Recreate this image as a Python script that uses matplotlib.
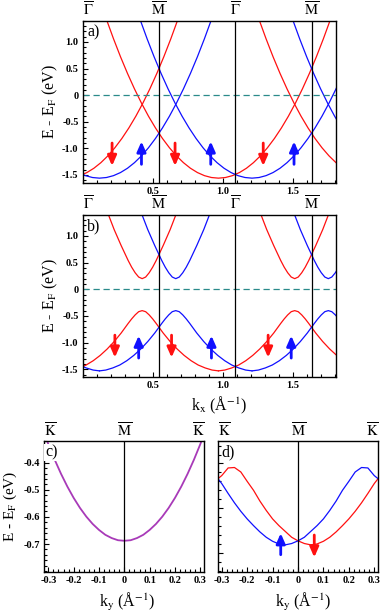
import numpy as np
import matplotlib
matplotlib.use('Agg')
import matplotlib.pyplot as plt
from matplotlib.ticker import MultipleLocator

plt.rcParams['font.family'] = ['Liberation Serif', 'DejaVu Serif']
plt.rcParams['mathtext.fontset'] = 'stix'

RED = '#ff1010'
BLUE = '#1010ff'
PURPLE = '#a83ab8'
TEAL = '#2a8a8a'

# one free-electron-like parabola (offset from its minimum)
para_dk = [-0.85, -0.80, -0.75, -0.70, -0.65, -0.60, -0.55, -0.50, -0.45, -0.40,
           -0.35, -0.30, -0.25, -0.20, -0.15, -0.10, -0.05, 0.00, 0.05, 0.10,
           0.15, 0.20, 0.25, 0.30, 0.35, 0.40, 0.45, 0.50, 0.55, 0.60,
           0.65, 0.70, 0.75, 0.80, 0.85]
para_E = [1.807, 1.422, 1.061, 0.723, 0.409, 0.118, -0.150, -0.395, -0.616, -0.814,
          -0.989, -1.141, -1.269, -1.374, -1.455, -1.513, -1.548, -1.560, -1.548, -1.513,
          -1.455, -1.374, -1.269, -1.141, -0.989, -0.814, -0.616, -0.395, -0.150, 0.118,
          0.409, 0.723, 1.061, 1.422, 1.807]
a_red_centers = [-0.12, 0.97, 2.06]
a_blue_centers = [0.12, 1.21, 2.30]

# gapped bands of panel b, read around each gap (offset from the gap)
gap_dk = [-0.545, -0.50, -0.45, -0.40, -0.35, -0.30, -0.25, -0.20, -0.15, -0.10,
          -0.075, -0.05, -0.025, 0.0, 0.025, 0.05, 0.075, 0.10, 0.15, 0.20,
          0.25, 0.30, 0.35, 0.40, 0.45, 0.50, 0.545]
gap_lower = [-1.53, -1.515, -1.475, -1.42, -1.34, -1.24, -1.12, -0.98, -0.82, -0.64,
             -0.555, -0.48, -0.42, -0.40, -0.42, -0.48, -0.555, -0.64, -0.82, -0.98,
             -1.12, -1.24, -1.34, -1.42, -1.475, -1.515, -1.53]
up_dk = [-0.30, -0.25, -0.20, -0.15, -0.10, -0.075, -0.05, -0.025, 0.0,
         0.025, 0.05, 0.075, 0.10, 0.15, 0.20, 0.25, 0.30]
gap_upper = [1.83, 1.46, 1.12, 0.82, 0.54, 0.415, 0.31, 0.23, 0.20,
             0.23, 0.31, 0.415, 0.54, 0.82, 1.12, 1.46, 1.83]
b_red_gaps = [0.425, 1.515]
b_blue_gaps = [-0.425, 0.665, 1.755]

sym_k = [0.0, 0.545, 1.09, 1.635]
sym_lab = [r'$\overline{\Gamma}$', r'$\overline{\mathrm{M}}$',
           r'$\overline{\Gamma}$', r'$\overline{\mathrm{M}}$']

a_red_arrows = [0.21, 0.66, 1.29]
a_blue_arrows = [0.42, 0.915, 1.51]
b_red_arrows = [0.23, 0.635, 1.325]
b_blue_arrows = [0.40, 0.92, 1.49]

# panels c and d, along K-M-K
ky = [-0.315, -0.30, -0.275, -0.25, -0.225, -0.20, -0.175, -0.15, -0.125, -0.10,
      -0.075, -0.05, -0.025, 0.0, 0.025, 0.05, 0.075, 0.10, 0.125, 0.15,
      0.175, 0.20, 0.225, 0.25, 0.275, 0.30, 0.315]
c_E = [-0.295, -0.332, -0.389, -0.441, -0.488, -0.530, -0.567, -0.599, -0.626, -0.648,
       -0.666, -0.678, -0.686, -0.688, -0.686, -0.678, -0.666, -0.648, -0.626, -0.599,
       -0.567, -0.530, -0.488, -0.441, -0.389, -0.332, -0.295]
d_blue = [-0.534, -0.545, -0.567, -0.588, -0.607, -0.624, -0.639, -0.653, -0.665, -0.674,
          -0.680, -0.682, -0.679, -0.673, -0.665, -0.652, -0.639, -0.624, -0.605, -0.584,
          -0.560, -0.540, -0.519, -0.509, -0.510, -0.527, -0.534]
d_red = [-0.534, -0.527, -0.510, -0.509, -0.519, -0.540, -0.560, -0.584, -0.605, -0.624,
         -0.639, -0.652, -0.665, -0.673, -0.679, -0.682, -0.680, -0.674, -0.665, -0.653,
         -0.639, -0.624, -0.607, -0.588, -0.567, -0.545, -0.534]


def arrow(ax, x, y0, y1, col):
    ax.annotate('', xy=(x, y1), xytext=(x, y0),
                arrowprops=dict(arrowstyle='-|>,head_length=0.5,head_width=0.22',
                                mutation_scale=12, lw=2, color=col,
                                shrinkA=0, shrinkB=0))


def style(ax):
    ax.tick_params(which='both', direction='in', top=False, right=False,
                   labelsize=7.5, width=0.8, pad=3)
    ax.tick_params(which='major', length=3.5)
    ax.tick_params(which='minor', length=2)
    for sp in ax.spines.values():
        sp.set_linewidth(1.0)


fig = plt.figure(figsize=(3.88, 6.13), dpi=100)
ax_a = fig.add_axes([0.2131, 0.7020, 0.6529, 0.2643])
ax_b = fig.add_axes([0.2131, 0.3850, 0.6529, 0.2648])
ax_c = fig.add_axes([0.1142, 0.0674, 0.4124, 0.2132])
ax_d = fig.add_axes([0.5611, 0.0674, 0.4139, 0.2137])

dk = np.array(para_dk)
for c in a_red_centers:
    ax_a.plot(dk + c, para_E, color=RED, lw=0.9)
for c in a_blue_centers:
    ax_a.plot(dk + c, para_E, color=BLUE, lw=0.9)
for k in a_red_arrows:
    arrow(ax_a, k, -0.9, -1.33, RED)
for k in a_blue_arrows:
    arrow(ax_a, k, -1.30, -0.87, BLUE)

gdk = np.array(gap_dk)
udk = np.array(up_dk)
for c in b_red_gaps:
    ax_b.plot(gdk + c, gap_lower, color=RED, lw=0.9)
    ax_b.plot(udk + c, gap_upper, color=RED, lw=0.9)
for c in b_blue_gaps:
    ax_b.plot(gdk + c, gap_lower, color=BLUE, lw=0.9)
    ax_b.plot(udk + c, gap_upper, color=BLUE, lw=0.9)
for k in b_red_arrows:
    arrow(ax_b, k, -0.86, -1.28, RED)
for k in b_blue_arrows:
    arrow(ax_b, k, -1.29, -0.87, BLUE)

for ax, lab in [(ax_a, 'a)'), (ax_b, 'b)')]:
    ax.set_xlim(0, 1.81)
    ax.set_ylim(-1.645, 1.40)
    ax.axhline(0, color=TEAL, ls=(0, (5, 3)), lw=0.9)
    for k in sym_k[1:]:
        ax.axvline(k, color='k', lw=0.9)
    for k, s in zip(sym_k, sym_lab):
        ax.text(k, 1.01, s, transform=ax.get_xaxis_transform(), fontsize=10.5,
                ha='left' if k == 0 else 'center', va='bottom')
    ax.set_yticks([-1.5, -1.0, -0.5, 0, 0.5, 1.0],
                  ['-1.5', '-1.0', '-0.5', '0', '0.5', '1.0'], fontweight='bold')
    ax.set_xticks([0.5, 1.0, 1.5], ['0.5', '1.0', '1.5'], fontweight='bold')
    ax.xaxis.set_minor_locator(MultipleLocator(0.1))
    ax.yaxis.set_minor_locator(MultipleLocator(0.1))
    style(ax)
    ax.text(0.018, 0.975, lab, transform=ax.transAxes, fontsize=11.5,
            ha='left', va='top')

fig.text(50 / 388, 1 - 101.7 / 613, r'E - E$_\mathrm{F}$ (eV)', rotation=90,
         ha='center', va='center', fontsize=11.5)
fig.text(50 / 388, 1 - 295.9 / 613, r'E - E$_\mathrm{F}$ (eV)', rotation=90,
         ha='center', va='center', fontsize=11.5)
fig.text(219 / 388, 1 - 405 / 613, r'k$_\mathrm{x}$ (Å$^{-1}$)',
         ha='center', va='center', fontsize=11.5)

# panel c
ax_c.plot(ky, c_E, color=PURPLE, lw=1.3)
ax_c.set_ylim(-0.802, -0.32)
ax_c.set_yticks([-0.7, -0.6, -0.5, -0.4], ['-0.7', '-0.6', '-0.5', '-0.4'],
                fontweight='bold')
ax_c.yaxis.set_minor_locator(MultipleLocator(0.02))
ax_c.text(0.005, 0.975, 'c)', transform=ax_c.transAxes, fontsize=11.5,
          ha='left', va='top', bbox=dict(fc='white', ec='none', pad=0.5))

# panel d
ax_d.plot(ky, d_red, color=RED, lw=0.9)
ax_d.plot(ky, d_blue, color=BLUE, lw=0.9)
arrow(ax_d, -0.068, -0.704, -0.656, BLUE)
arrow(ax_d, 0.064, -0.660, -0.710, RED)
ax_d.set_ylim(-0.742, -0.449)
ax_d.set_yticks([-0.7, -0.6, -0.5], ['', '', ''])
ax_d.yaxis.set_minor_locator(MultipleLocator(0.02))
ax_d.text(0.025, 0.975, 'd)', transform=ax_d.transAxes, fontsize=11.5,
          ha='left', va='top')

ky_sym = [-0.316, 0.0, 0.316]
ky_lab = [r'$\overline{\mathrm{K}}$', r'$\overline{\mathrm{M}}$',
          r'$\overline{\mathrm{K}}$']
for ax in (ax_c, ax_d):
    ax.set_xlim(-0.316, 0.316)
    ax.axvline(0, color='k', lw=0.9)
    ax.set_xticks([-0.3, -0.2, -0.1, 0, 0.1, 0.2, 0.3],
                  ['-0.3', '-0.2', '-0.1', '0', '0.1', '0.2', '0.3'],
                  fontweight='bold')
    ax.xaxis.set_minor_locator(MultipleLocator(0.02))
    style(ax)
    for k, s, ha in zip(ky_sym, ky_lab, ['left', 'center', 'right']):
        ax.text(k, 1.01, s, transform=ax.get_xaxis_transform(), fontsize=10.5,
                ha=ha, va='bottom')

fig.text(10 / 388, 1 - 506.3 / 613, r'E - E$_\mathrm{F}$ (eV)', rotation=90,
         ha='center', va='center', fontsize=11)
fig.text(126.7 / 388, 1 - 601.7 / 613, r'k$_\mathrm{y}$ (Å$^{-1}$)',
         ha='center', va='center', fontsize=11.5)
fig.text(303 / 388, 1 - 601.7 / 613, r'k$_\mathrm{y}$ (Å$^{-1}$)',
         ha='center', va='center', fontsize=11.5)

fig.savefig('out.png', dpi=100)
